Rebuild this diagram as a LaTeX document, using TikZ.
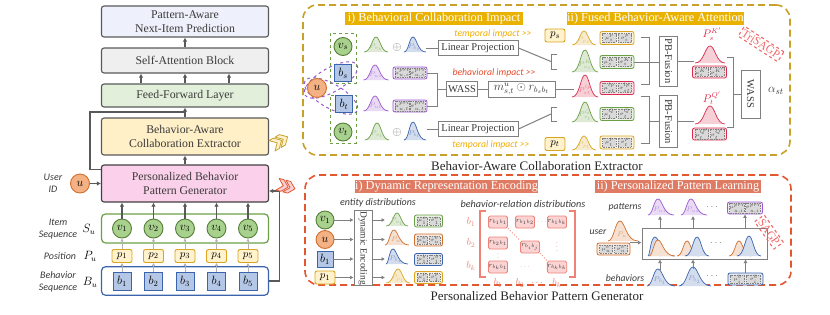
\documentclass[tikz,border=0pt]{standalone}
\usepackage{fontspec}
\usepackage{graphicx}
\setmainfont{Liberation Serif}
\newfontfamily\lab{Carlito}
\usetikzlibrary{arrows.meta,calc}
\definecolor{dk}{HTML}{595959}
\definecolor{txt}{HTML}{3A3A3A}
\definecolor{cgreen}{HTML}{6A9F45}
\definecolor{cgreenf}{HTML}{A9D18E}
\definecolor{cblue}{HTML}{3B64AD}
\definecolor{cbluef}{HTML}{B4C7E7}
\definecolor{cgold}{HTML}{D9A520}
\definecolor{cgoldf}{HTML}{FFF2CC}
\definecolor{corange}{HTML}{D0702E}
\definecolor{corangef}{HTML}{F4B183}
\definecolor{cpurple}{HTML}{9B59D0}
\definecolor{cred}{HTML}{D92B4B}
\definecolor{tabgold}{HTML}{EAB200}
\definecolor{tabred}{HTML}{E07B63}
\definecolor{boxgold}{HTML}{C8A02A}
\definecolor{boxred}{HTML}{E2572F}
\definecolor{impgold}{HTML}{F2AE00}
\definecolor{impred}{HTML}{E84A2A}
\definecolor{salmon}{HTML}{EE8277}
\definecolor{cellf}{HTML}{FBD3D3}
\definecolor{stampc}{HTML}{F06A6A}
\definecolor{gline}{HTML}{7F7F7F}
\definecolor{predf}{HTML}{EEF1FB}
\definecolor{saf}{HTML}{EFEFEF}
\definecolor{fflf}{HTML}{E2EFDA}
\definecolor{bacef}{HTML}{FFF0C8}
\definecolor{pbpgf}{HTML}{FBD0EA}
\definecolor{chevr}{HTML}{FAD0D5}

\newcommand\bell[7]{%
  \path[draw=#6, fill=#6!22, line width=0.7pt]
    ({#1-#3/2},#2) .. controls ({#1+#5-#3/5},#2) and ({#1+#5-#3/6},{#2-#4}) .. ({#1+#5},{#2-#4})
    .. controls ({#1+#5+#3/6},{#2-#4}) and ({#1+#5+#3/5},#2) .. ({#1+#3/2},#2);
  \node[text=#6!65, font=\fontsize{7.5}{7.5}\selectfont, inner sep=0pt] at ({#1+#5/3},{#2-#4*0.33}) {#7};%
}
\newcommand\musig[8]{%
  \node[draw=#4, fill=#4!15, rounded corners=2pt, line width=0.8pt, minimum width=#5pt, minimum height=#8pt, inner sep=0pt] (#1) at (#2,#3) {};
  \node[inbox, minimum width={(#5-7)/2}, minimum height={#8-4}] (#1m) at ({#2-(#5-7)/4-1},#3) {$\mu^{#6}_{#7}$};
  \node[inbox, minimum width={(#5-7)/2}, minimum height={#8-4}] (#1s) at ({#2+(#5-7)/4+1},#3) {$\sigma^{#6}_{#7}$};%
}
\newcommand\chev[5]{%
  \begin{scope}[shift={(#1,#2)}, rotate=#3]
    \foreach \d in {0,7}{
      \path[draw=#4, fill=#5, line width=0.8pt, line join=round] (\d,0) -- ({\d+5},0) -- ({\d+11},-6) -- ({\d+5},-12) -- (\d,-12) -- ({\d+6},-6) -- cycle;
    }
  \end{scope}}

\begin{document}
\begin{tikzpicture}[x=1pt,y=-1pt, font=\fontsize{10}{12}\selectfont,
  mainbox/.style={draw=dk, line width=1.1pt, rounded corners=2.5pt, minimum width=167pt, align=center, text=txt, font=\fontsize{11.8}{13.5}\selectfont, inner sep=1pt},
  arr/.style={draw=dk, line width=1.1pt, -{Latex[length=4pt,width=4.5pt]}},
  larr/.style={draw=black!30, line width=1pt, -{Latex[length=3pt,width=3.5pt]}},
  garr/.style={draw=gline, line width=1pt, -{Latex[length=3.5pt,width=4pt]}},
  con/.style={draw=gline, line width=1pt},
  vnode/.style={circle, draw=cgreen!80!black, fill=cgreenf, line width=0.9pt, minimum size=19pt, inner sep=0pt, font=\fontsize{11.5}{11.5}\selectfont},
  unode/.style={circle, draw=corange, fill=corangef, line width=0.9pt, minimum size=19pt, inner sep=0pt, font=\fontsize{11.5}{11.5}\selectfont},
  bnode/.style={draw=cblue, fill=cbluef, line width=0.9pt, minimum size=18pt, inner sep=0pt, font=\fontsize{11.5}{11.5}\selectfont},
  pnode/.style={draw=cgold, fill=cgoldf, rounded corners=2pt, line width=0.9pt, minimum width=20pt, minimum height=13pt, inner sep=0pt, font=\fontsize{11}{11}\selectfont},
  seqbox/.style={rounded corners=4pt, line width=1.2pt, minimum width=167pt},
  side/.style={font=\lab\itshape\fontsize{10}{12}\selectfont, align=center, text=txt},
  gbox/.style={draw=gline, line width=1pt, fill=white, text=txt, inner sep=1pt, font=\fontsize{10.5}{10.5}\selectfont},
  tab/.style={text=white, inner sep=0pt, minimum height=13.5pt, font=\fontsize{12.3}{12.3}\selectfont},
  imp/.style={font=\lab\itshape\fontsize{9.7}{9.7}\selectfont, inner sep=1pt},
  inbox/.style={draw=gray, dash pattern=on 1pt off 0.7pt, fill=black!15, line width=0.4pt, inner sep=0pt, text=black!70, font=\fontsize{4.5}{4.5}\selectfont},
  rcell/.style={draw=salmon, fill=cellf, rounded corners=1.5pt, line width=0.8pt, minimum width=19pt, minimum height=12pt, inner sep=0pt, text=black!75, font=\fontsize{7}{7}\selectfont},
  stampst/.style={draw=stampc, dashed, line width=1.1pt, text=stampc, font=\fontsize{11.5}{11.5}\selectfont, inner sep=2pt},
  ttl/.style={font=\fontsize{13}{13}\selectfont, text=black!85},
  sdots/.style={text=salmon, font=\fontsize{7}{7}\selectfont, inner sep=0pt}
]
\useasboundingbox (0,0) rectangle (830,314);

% ================= left column =================
\node[mainbox, fill=predf, minimum height=31pt] (pred) at (185,21.5) {Pattern-Aware\\Next-Item Prediction};
\node[mainbox, fill=saf, minimum height=25pt] (sa) at (185,60.5) {Self-Attention Block};
\node[mainbox, fill=fflf, minimum height=23pt] (ffl) at (185,95.5) {Feed-Forward Layer};
\node[mainbox, fill=bacef, minimum height=37pt] (bace) at (185,136.5) {Behavior-Aware\\Collaboration Extractor};
\node[mainbox, fill=pbpgf, draw=black!75, minimum height=37pt] (pbpg) at (185,183.5) {Personalized Behavior\\Pattern Generator};

\draw[arr] (sa) -- (pred);
\foreach \o in {-44,0,44} \draw[arr] ($(ffl.north)+(\o,0)$) -- ($(sa.south)+(\o,0)$);
\draw[arr] (bace) -- (ffl);
\draw[arr] (pbpg) -- (bace);
\coordinate (skipj) at (185,112);
\draw[dk, line width=1.1pt] ($(pbpg.north west)+(0,5)$) -| (90,112) -- (skipj);

\node[unode] (u0) at (80,183.5) {$u$};
\draw[arr] (u0) -- (pbpg.west);
\node[side] (uid) at (53,183.5) {User\\ID};

\node[seqbox, draw=cgreen, minimum height=29pt] (iseq) at (185,228.5) {};
\node[seqbox, draw=cblue, minimum height=28.5pt] (bseq) at (185,281) {};
\node[side] (l1) at (58,229) {Item\\Sequence};
\node[font=\fontsize{11.5}{11.5}\selectfont] (l1m) at (89,229) {$S_u$};
\node[side] (l2) at (60,256) {Position};
\node[font=\fontsize{11.5}{11.5}\selectfont] (l2m) at (90,256) {$P_u$};
\node[side] (l3) at (58,282) {Behavior\\Sequence};
\node[font=\fontsize{11.5}{11.5}\selectfont] (l3m) at (90,282) {$B_u$};

\foreach \i/\x in {1/122,2/153.5,3/185,4/216.5,5/248}{
  \node[vnode] (v\i) at (\x,228.5) {$v_{\i}$};
  \node[pnode] (p\i) at (\x,256) {$p_{\i}$};
  \node[bnode] (b\i) at (\x,281.5) {$b_{\i}$};
  \draw[larr] (b\i) -- (p\i);
  \draw[larr] (p\i) -- (v\i);
  \draw[arr] (v\i) -- (v\i |- pbpg.south);
}
\draw[arr] (bseq.east) -- ++(10,0) |- ($(pbpg.east)+(0,7.5)$);

\chev{275}{151}{30}{boxgold}{cgoldf}
\chev{276}{190}{-15}{boxred}{chevr}

% ================= top right box =================
\node[draw=boxgold, dash pattern=on 7pt off 4pt, line width=1.6pt, rounded corners=14pt, minimum width=487pt, minimum height=150pt] (topbox) at (546.5,80) {};
\node[tab, fill=tabgold, minimum width=178pt] (tab1) at (434,18.5) {i) Behavioral Collaboration Impact};
\node[tab, fill=tabgold, minimum width=177pt] (tab2) at (655.5,18.5) {ii) Fused Behavior-Aware Attention};
\node[ttl] (t1) at (537,166) {Behavior-Aware Collaboration Extractor};

\node[draw=cgreen, dashed, line width=1pt, minimum width=26pt, minimum height=50pt] (gs) at (343,58) {};
\node[draw=cgreen, dashed, line width=1pt, minimum width=26pt, minimum height=48pt] (gt) at (343,119) {};
\draw[cpurple, dashed, line width=1pt, rotate around={30:(331,80)}] (331,80) ellipse [x radius=30, y radius=12];
\draw[cpurple, dashed, line width=1pt, rotate around={-30:(331,96)}] (331,96) ellipse [x radius=30, y radius=12];
\node[vnode, minimum size=18pt] (vs) at (343,46.5) {$v_s$};
\node[bnode, minimum size=17pt] (bs) at (343,73) {$b_s$};
\node[bnode, minimum size=17pt] (bt) at (344,104) {$b_t$};
\node[vnode, minimum size=18pt] (vt) at (343,132) {$v_t$};
\node[unode] (u1) at (317,88) {$u$};

\bell{376}{52}{24}{15}{0}{cgreen}{$P_{v_s}$}
\node[text=gline, font=\fontsize{12}{12}\selectfont] (op1) at (397,47) {$\oplus$};
\bell{415}{52}{22}{15}{-2}{cblue}{$P_{b_s}$}
\bell{376}{80}{25}{15}{-1}{cpurple}{$P_{us}$}
\musig{ms1}{410}{73}{cpurple}{34}{pri}{u,s}{12}
\bell{376}{111}{25}{15}{-1}{cpurple}{$P_{ut}$}
\musig{ms2}{410}{106}{cpurple}{34}{pri}{u,t}{12}
\bell{377}{140}{24}{17}{0}{cgreen}{$P_{v_t}$}
\node[text=gline, font=\fontsize{12}{12}\selectfont] (op2) at (397,132) {$\oplus$};
\bell{415}{140}{22}{18}{-2}{cblue}{$P_{b_t}$}

\node[gbox, minimum width=80pt, minimum height=15pt] (lp1) at (478,48) {Linear Projection};
\node[gbox, minimum width=80pt, minimum height=15pt] (lp2) at (478,129) {Linear Projection};
\coordinate (bso) at (426,48);
\coordinate (bto) at (427,129);
\draw[con] (bso) -- (lp1.west);
\draw[con] (bto) -- (lp2.west);

\node[gbox, minimum width=31pt, minimum height=15pt] (wass1) at (462,89) {WASS};
\node[gbox, minimum width=67pt, minimum height=16pt, font=\fontsize{11.5}{11.5}\selectfont] (mb) at (521.5,89) {$m^u_{s,t}\odot r_{b_s b_t}$};
\draw[con] (ms1.east) -- ++(10,0) |- (ms2.east);
\coordinate (brk1) at (437,89);
\draw[con] (brk1) -- (wass1.west);
\draw[con] (wass1) -- (mb);
\coordinate (redin) at (574,89);
\draw[con] (mb.east) -- (redin);

\node[imp, text=impgold] (ti1) at (493,34) {temporal impact >\kern0pt>};
\node[imp, text=impgold] (ti2) at (491,145) {temporal impact >\kern0pt>};
\node[imp, text=impred] (bi) at (494,73) {behavioral impact >\kern0pt>};
\node[pnode] (ps) at (555,35.5) {$p_s$};
\node[pnode] (pt) at (555,144) {$p_t$};

\coordinate (lb1) at (551,61.5);
\coordinate (lb2) at (551,114);
\draw[con] (lp1.east) -- (lb1);
\draw[con] (557,54) -- (551,54) -- (551,69) -- (557,69);
\draw[con] (lp2.east) -- (lb2);
\draw[con] (557,107) -- (551,107) -- (551,121) -- (557,121);

% column ii
\bell{584}{45}{24}{14}{0}{cgold}{$P_{p_s}$}
\musig{msA}{617}{38}{cgold}{34}{p}{s}{13}
\bell{585}{72}{26}{22}{0}{cgreen}{$P^{K}_{v_s}$}
\musig{msB}{617}{62}{cgreen}{34}{K}{s}{13}
\bell{585}{97}{26}{22}{0}{cred}{$P^{lp}_{st}$}
\musig{msC}{617}{88}{cred}{34}{lp}{st}{13}
\bell{585}{122}{26}{20}{0}{cgreen}{$P^{Q}_{v_t}$}
\musig{msD}{617}{114}{cgreen}{34}{Q}{t}{13}
\bell{584}{150}{24}{14}{0}{cgold}{$P_{p_t}$}
\musig{msE}{617}{142.5}{cgold}{34}{p}{t}{13}

\node[gbox, minimum width=18pt, minimum height=50pt] (pb1) at (668.5,61) {\rotatebox{-90}{PB-Fusion}};
\node[gbox, minimum width=18pt, minimum height=52pt] (pb2) at (668.5,121.5) {\rotatebox{-90}{PB-Fusion}};
\draw[con] (641,37) -- (649,37) -- (649,84) -- (641,84);
\draw[con] (msB.east) -- (msB.east -| pb1.west);
\draw[con] (641,96) -- (649,96) -- (649,143) -- (641,143);
\coordinate (b2m) at (649,121.5);
\draw[con] (b2m) -- (pb2.west);

\node[text=cred, font=\fontsize{10.5}{10.5}\selectfont] (lk) at (712,34) {$P_s^{K'}$};
\bell{710}{63}{30}{17}{0}{cred}{}
\musig{msK}{709.5}{72}{cred}{34}{K'}{s}{12}
\node[text=cred, font=\fontsize{10.5}{10.5}\selectfont] (lq) at (712,98) {$P_t^{Q'}$};
\bell{710}{124}{30}{18}{0}{cred}{}
\musig{msQ}{709.5}{134}{cred}{34}{Q'}{t}{12}
\draw[con] (pb1.east) -- ++(16,0);
\draw[con] (pb2.east) -- ++(16,0);

\node[gbox, minimum width=19pt, minimum height=48pt] (wass2) at (750.5,94) {\rotatebox{-90}{WASS}};
\draw[con] (727,57) -- (733,57) -- (733,127) -- (727,127);
\coordinate (b3m) at (733,94);
\draw[con] (b3m) -- (wass2.west);
\node[font=\fontsize{13}{13}\selectfont, text=txt] (alpha) at (776,91) {$\alpha_{st}$};
\node[stampst, rotate=-33] (tri) at (761,44) {TriSAGP};

% ================= bottom right box =================
\node[draw=boxred, dash pattern=on 7pt off 4pt, line width=1.6pt, rounded corners=14pt, minimum width=486pt, minimum height=110pt] (botbox) at (548,230) {};
\node[tab, fill=tabred, minimum width=183pt] (tab3) at (446.5,186.5) {i) Dynamic Representation Encoding};
\node[tab, fill=tabred, minimum width=166pt] (tab4) at (678,186.5) {ii) Personalized Pattern Learning};
\node[ttl] (t2) at (537,296) {Personalized Behavior Pattern Generator};

% section i
\node[imp, font=\lab\itshape\fontsize{10}{10}\selectfont, text=txt] (entl) at (378,203) {entity distributions};
\node[vnode, minimum size=18pt] (ev) at (325,220) {$v_1$};
\node[unode, minimum size=18pt] (eu) at (325,239.5) {$u$};
\node[bnode, minimum size=16pt] (eb) at (325,259) {$b_1$};
\node[pnode] (ep) at (325,277.5) {$p_1$};
\node[gbox, minimum width=18pt, minimum height=72pt, font=\fontsize{9.5}{9.5}\selectfont] (de) at (363,248) {\rotatebox{-90}{Dynamic Encoding}};
\foreach \e in {ev,eu,eb,ep} \draw[garr] (\e) -- (\e -| de.west);
\coordinate (dv) at (385,220);
\coordinate (du) at (385,239.5);
\coordinate (db) at (385,259);
\coordinate (dp) at (385,277.5);
\foreach \e in {dv,du,db,dp} \draw[garr] (de.east |- \e) -- (\e);
\bell{397}{226}{22}{13}{0}{cgreen}{$P_{v_1}$}
\bell{397}{245}{24}{15}{-3}{corange}{$P_u$}
\bell{397}{264}{22}{15}{-4}{cblue}{$P_{b_1}$}
\bell{398}{283}{24}{14}{0}{cgold}{$P_{p_1}$}
\musig{mse1}{428.5}{221}{cgreen}{28}{e}{1}{12}
\musig{mse2}{428.5}{240}{corange}{28}{e}{u}{12}
\musig{mse3}{428.5}{259.5}{cblue}{28}{b}{1}{12}
\musig{mse4}{428.5}{277.5}{cgold}{28}{p}{1}{12}

% matrix
\node[imp, font=\lab\itshape\fontsize{10.2}{10.2}\selectfont, text=txt] (brl) at (523,204) {behavior-relation distributions};
\draw[salmon, line width=1.6pt] (486,211) -- (480,211) -- (480,277) -- (486,277);
\draw[salmon, line width=1.6pt] (569,211) -- (575,211) -- (575,277) -- (569,277);
\node[text=salmon] (rb1) at (471,222) {$b_1$};
\node[text=salmon] (rb2) at (471,243) {$b_2$};
\node[text=salmon] (rbk) at (471,266) {$b_k$};
\node[text=salmon] (cb1) at (498,283) {$b_1$};
\node[text=salmon] (cb2) at (520,283) {$b_2$};
\node[text=salmon] (cbd) at (537,283) {$\cdots$};
\node[text=salmon] (cbk) at (557,283) {$b_k$};
\node[rcell] (r11) at (498,222) {$r_{b_1b_1}$};
\node[rcell] (r12) at (525,222) {$r_{b_1b_2}$};
\node[sdots] (rd1) at (542,222) {$\cdots$};
\node[rcell] (r1k) at (557,222) {$r_{b_1b_k}$};
\node[rcell] (r21) at (498,243) {$r_{b_2b_1}$};
\node[rcell] (rij) at (530,247) {$r_{b_ib_j}$};
\node[sdots] (rd2) at (498,255.5) {$\vdots$};
\node[sdots] (rd3) at (557,244) {$\vdots$};
\node[rcell] (rk1) at (498,267) {$r_{b_kb_1}$};
\node[sdots] (rd4) at (525,267) {$\cdots$};
\node[rcell] (rkk) at (557,267) {$r_{b_kb_k}$};
\draw[salmon, dotted, line width=0.9pt] (r11.south east) -- (rij.north west);
\draw[salmon, dotted, line width=0.9pt] (rij.south east) -- (rkk.north west);

% section ii
\node[imp, text=txt] (patl) at (625,207) {patterns};
\bell{661}{215}{26}{16}{-3}{cpurple}{$P_{u1}$}
\bell{694}{215}{26}{16}{-3}{cpurple}{$P_{u2}$}
\node[text=gline] (pd1) at (712,207) {$\cdots$};
\musig{msP}{745}{208}{cpurple}{35}{pri}{u,i}{12}
\node[draw=gline, line width=1pt, minimum width=125pt, minimum height=31pt] (pl) at (704.5,243.5) {};
\bell{661}{256}{26}{19}{-6}{cblue}{}
\bell{662}{256}{26}{16}{-4}{corange}{}
\bell{688}{256}{22}{15}{-1}{corange}{}
\bell{697}{256}{24}{19}{0}{cblue}{}
\bell{740}{256}{22}{15}{-1}{corange}{}
\bell{749}{256}{24}{20}{0}{cblue}{}
\node[text=gline] (pd2) at (716,243) {$\cdots$};
\coordinate (pu1) at (660,216);
\coordinate (pu2) at (693,216);
\foreach \c in {pu1,pu2} \draw[garr] (\c |- pl.north) -- (\c);
\draw[garr] (msP.south |- pl.north) -- (msP.south);

\node[imp, text=txt] (userl) at (598,232) {user};
\bell{623}{241}{30}{20}{-3}{corange}{$P_u$}
\musig{msU}{613.5}{249}{corange}{33}{e}{u}{12}
\draw[garr] (msU.north east) -- (msU.north east -| pl.west);

\node[imp, text=txt] (behl) at (625,278) {behaviors};
\bell{661}{286}{28}{17}{-3}{cblue}{$P_{b_1}$}
\bell{695}{286}{32}{19}{-2}{cblue}{$P_{b_2}$}
\node[text=gline] (pd3) at (712,276) {$\cdots$};
\musig{msBB}{745.5}{279}{cblue}{35}{b}{i}{12}
\coordinate (pb1c) at (660,270);
\coordinate (pb2c) at (693,269);
\foreach \c in {pb1c,pb2c} \draw[garr] (\c) -- (\c |- pl.south);
\draw[garr] (msBB.north) -- (msBB.north |- pl.south);
\node[stampst, rotate=-55] (sagp) at (769,232) {SAGP};
\end{tikzpicture}
\end{document}
